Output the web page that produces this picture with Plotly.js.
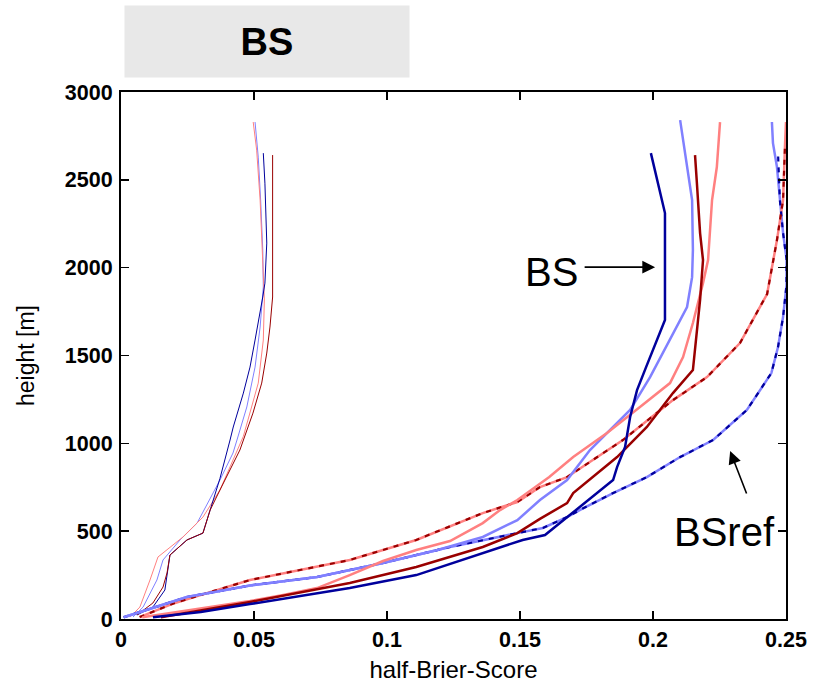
<!DOCTYPE html>
<html>
<head>
<meta charset="utf-8">
<script src="https://cdn.plot.ly/plotly-3.0.1.min.js"></script>
<style>html,body{margin:0;padding:0;background:#fff;}#chart{width:815px;height:691px;}</style>
</head>
<body>
<div id="chart"></div>
<script>
// ---- thin curves (left group) ----
const thinDarkBlueX = [0.006,0.012,0.0165,0.0173,0.0184,0.0248,0.0308,0.0335,0.0372,0.041,0.0422,0.046,0.0485,0.0504,0.0523,0.0533,0.0541,0.0548,0.0541,0.0535];
const thinDarkBlueH = [23,68,165,262,364,450,489,620,800,1019,1093,1286,1434,1588,1742,1833,1912,2140,2481,2652];
const thinLightBlueX = [0.0045,0.0083,0.0135,0.0158,0.0222,0.0286,0.0372,0.0421,0.0436,0.0473,0.0504,0.0523,0.0535,0.0533,0.0525,0.0516,0.0504];
const thinLightBlueH = [11,68,222,336,450,546,791,945,1019,1207,1434,1662,1890,2100,2385,2629,2829];
const thinDarkRedX = [0.006,0.012,0.0158,0.0173,0.0184,0.0248,0.0308,0.0335,0.0372,0.0447,0.0496,0.0529,0.0548,0.056,0.057,0.057];
const thinDarkRedH = [23,91,182,262,364,450,489,620,734,962,1172,1343,1514,1662,1833,2641];
const thinLightRedX = [0.0034,0.0071,0.0109,0.0139,0.0233,0.0308,0.0372,0.046,0.0516,0.0535,0.0539,0.0531,0.0523,0.051,0.0497];
const thinLightRedH = [11,68,222,353,467,580,734,1040,1343,1588,1816,2083,2385,2669,2829];

// ---- BS (solid) ----
const bsDarkBlueX = [0.012,0.03,0.0485,0.086,0.111,0.136,0.151,0.1594,0.185,0.1865,0.1895,0.1914,0.194,0.1974,0.2045,0.2045,0.2015,0.1992];
const bsDarkBlueH = [10,40,85,176,250,375,450,478,791,865,979,1150,1303,1434,1702,2311,2499,2652];
const bsLightBlueX = [0.001,0.0248,0.049,0.0737,0.0985,0.119,0.136,0.149,0.1575,0.1677,0.1763,0.1914,0.1989,0.2075,0.2128,0.2147,0.215,0.2147,0.2128,0.2102];
const bsLightBlueH = [10,125,192,239,319,393,467,563,677,791,962,1190,1377,1628,1776,1946,2100,2385,2573,2840];
const bsDarkRedX = [0.015,0.03,0.0485,0.086,0.111,0.136,0.149,0.1575,0.1677,0.17,0.1865,0.1977,0.2075,0.215,0.2165,0.2177,0.2188,0.2177,0.2165,0.2158];
const bsDarkRedH = [10,50,97,205,296,410,489,570,660,717,922,1093,1286,1417,1628,1816,2043,2197,2482,2641];
const bsLightRedX = [0.008,0.03,0.0485,0.061,0.0737,0.086,0.0985,0.111,0.1237,0.136,0.1425,0.149,0.161,0.17,0.1827,0.1951,0.2064,0.2113,0.215,0.2188,0.2207,0.2222,0.224,0.2252];
const bsLightRedH = [10,60,102,137,176,250,330,393,444,546,620,677,808,922,1059,1207,1343,1491,1685,1912,2043,2385,2573,2829];

// ---- BSref (reference) ----
const refLightBlueX = [0.001,0.0248,0.049,0.0737,0.0985,0.1237,0.149,0.1586,0.1677,0.1726,0.185,0.1977,0.2102,0.2226,0.2353,0.2445,0.247,0.2489,0.2502,0.2502,0.2489,0.2477,0.2466,0.2451,0.2447];
const refLightBlueH = [10,125,192,239,319,410,489,518,580,621,717,808,922,1019,1190,1400,1548,1719,1900,2050,2197,2385,2573,2709,2829];
const refDarkBlueX = [0.001,0.0248,0.049,0.0737,0.0985,0.1237,0.149,0.1586,0.1677,0.1726,0.185,0.1977,0.2102,0.2226,0.2353,0.2445,0.247,0.2489,0.2502,0.2502,0.2489,0.2477,0.247];
const refDarkBlueH = [10,125,192,239,319,410,489,518,580,621,717,808,922,1019,1190,1400,1548,1719,1900,2050,2197,2385,2652];
const refLightRedX = [0.007,0.02,0.035,0.0485,0.086,0.111,0.136,0.149,0.1575,0.1677,0.17,0.1887,0.2075,0.2203,0.2327,0.2429,0.2466,0.2489,0.2496,0.25];
const refLightRedH = [11,90,160,222,336,450,603,666,751,808,831,1019,1246,1377,1571,1850,2157,2385,2686,2829];
const refDarkRedX = [0.007,0.02,0.035,0.0485,0.086,0.111,0.136,0.149,0.1575,0.1677,0.17,0.1887,0.2075,0.2203,0.2327,0.2429,0.2466,0.2489,0.2496];
const refDarkRedH = [11,90,160,222,336,450,603,666,751,808,831,1019,1246,1377,1571,1850,2157,2385,2686];

const xTickVals = [0,0.05,0.1,0.15,0.2,0.25];
const xTickText = ['0','0.05','0.1','0.15','0.2','0.25'];
const yTickVals = [0,500,1000,1500,2000,2500,3000];

const DB='#00009C', LB='#8080FF', DR='#990000', LR='#FF8080';
function tr(x,y,color,width,dash){
  return {x:x,y:y,type:'scatter',mode:'lines',line:{color:color,width:width,dash:dash||'solid'},hoverinfo:'skip',showlegend:false};
}
const data = [
  tr(thinLightBlueX,thinLightBlueH,LB,1),
  tr(thinLightRedX,thinLightRedH,LR,1),
  tr(thinDarkBlueX,thinDarkBlueH,DB,1),
  tr(thinDarkRedX,thinDarkRedH,DR,1),
  tr(refLightBlueX,refLightBlueH,LB,2.5),
  tr(refLightRedX,refLightRedH,LR,2.5),
  tr(refDarkBlueX,refDarkBlueH,DB,2.2,'5px,6px'),
  tr(refDarkRedX,refDarkRedH,DR,2.2,'5px,6px'),
  tr(bsLightBlueX,bsLightBlueH,LB,2.5),
  tr(bsLightRedX,bsLightRedH,LR,2.5),
  tr(bsDarkRedX,bsDarkRedH,DR,2.5),
  tr(bsDarkBlueX,bsDarkBlueH,DB,2.5)
];
const FONT = 'Liberation Sans, Arial, sans-serif';
const layout = {
  width:815, height:691,
  margin:{l:121,r:29,t:92,b:72,pad:0},
  paper_bgcolor:'#fff', plot_bgcolor:'#fff',
  showlegend:false,
  font:{family:FONT,color:'#000'},
  xaxis:{range:[0,0.25],tickvals:xTickVals,ticktext:xTickText,ticks:'inside',ticklen:8,tickwidth:1.5,tickcolor:'#000',
    showline:true,linecolor:'#000',linewidth:2,mirror:'allticks',showgrid:false,zeroline:false,
    tickfont:{family:FONT,size:21.5,weight:'bold'},
    title:{text:'half-Brier-Score',font:{family:FONT,size:24},standoff:10}},
  yaxis:{range:[0,3000],tickvals:yTickVals,ticks:'inside',ticklen:8,tickwidth:1.5,tickcolor:'#000',
    showline:true,linecolor:'#000',linewidth:2,mirror:'allticks',showgrid:false,zeroline:false,
    tickfont:{family:FONT,size:21.5,weight:'bold'},ticklabelstandoff:2,
    title:{text:'height [m]',font:{family:FONT,size:23},standoff:24}},
  annotations:[
    {xref:'paper',yref:'paper',x:0.2203,y:1.0958,xanchor:'center',yanchor:'middle',showarrow:false,
     text:'<b>BS</b>',font:{family:FONT,size:38,color:'#000'},bgcolor:'#e8e8e8',width:284,height:71,borderpad:0},
    {xref:'x',yref:'y',x:0.1617,y:1975,xanchor:'center',yanchor:'middle',showarrow:false,
     text:'BS',font:{family:FONT,size:40,color:'#000'}},
    {xref:'x',yref:'y',x:0.2008,y:2003,ax:-72,ay:0,showarrow:true,text:'',arrowhead:2,arrowsize:1.6,arrowwidth:1.6,arrowcolor:'#000'},
    {xref:'x',yref:'y',x:0.227,y:495,xanchor:'center',yanchor:'middle',showarrow:false,
     text:'BSref',font:{family:FONT,size:40,color:'#000'}},
    {xref:'x',yref:'y',x:0.229,y:956,ax:17,ay:44,showarrow:true,text:'',arrowhead:2,arrowsize:1.6,arrowwidth:1.6,arrowcolor:'#000'}
  ]
};
Plotly.newPlot('chart',data,layout,{displayModeBar:false,staticPlot:true});
</script>
</body>
</html>
